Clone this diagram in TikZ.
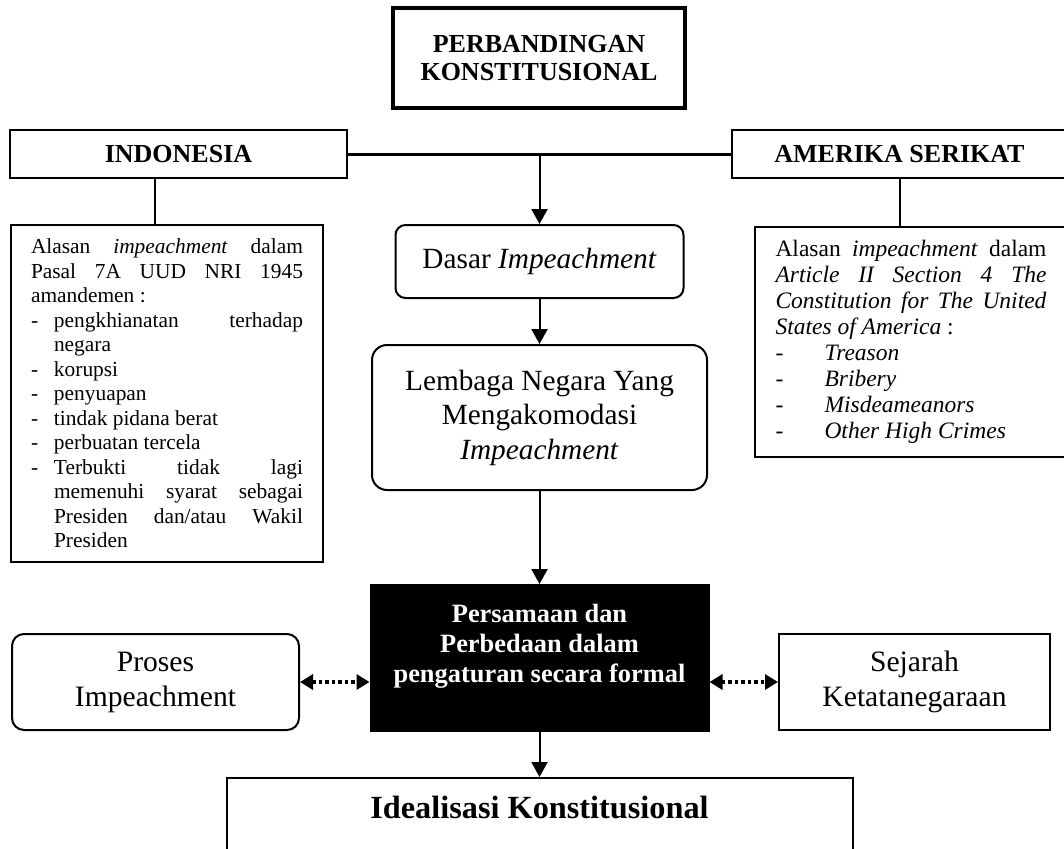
\documentclass[tikz,border=0pt]{standalone}
\usepackage{fontspec}
\setmainfont{Liberation Serif}
\usetikzlibrary{arrows.meta}
\begin{document}
\begin{tikzpicture}[x=1pt,y=-1pt,
  box/.style={draw, line width=2pt, inner sep=0pt},
  rbox/.style={box, rounded corners=12pt},
  arr/.style={line width=2pt, -{Triangle[width=16pt,length=15pt]}},
  darr/.style={line width=4pt, dash pattern=on 3.5pt off 3pt,
    {Triangle[width=15pt,length=13pt]}-{Triangle[width=15pt,length=13pt]}},
  conn/.style={line width=2pt},
  hdr/.style={font=\fontsize{26}{28}\selectfont\bfseries, align=center},
  big/.style={font=\fontsize{29.3}{34.5}\selectfont, align=center},
]
\useasboundingbox (0,0) rectangle (1064,848);

% title
\node[box, line width=4.5pt, minimum width=292, minimum height=100, hdr] (title) at (539,58) {PERBANDINGAN\\KONSTITUSIONAL};

% country headers
\node[box, minimum width=337, minimum height=48, hdr] (indo) at (178.5,154) {INDONESIA};
\node[box, minimum width=335, minimum height=48, hdr] (amer) at (899.5,154) {AMERIKA SERIKAT};
\draw[line width=3pt] (indo.east) -- (amer.west);
\coordinate (hub) at (539.5,154);
\coordinate (lx) at (155,0);
\coordinate (rx) at (900,0);

% left reasons box
\node[box, minimum width=312, minimum height=337, text width=272, align=justify,
      font=\fontsize{21.4}{24.5}\selectfont] (alasanid) at (167,393.5) {\parindent=0pt
Alasan \textit{impeachment} dalam\linebreak Pasal 7A UUD NRI 1945\linebreak amandemen :\par
\hangindent=23pt\hangafter=1\makebox[23pt][l]{-}pengkhianatan terhadap\linebreak negara\par
\hangindent=23pt\hangafter=1\makebox[23pt][l]{-}korupsi\par
\hangindent=23pt\hangafter=1\makebox[23pt][l]{-}penyuapan\par
\hangindent=23pt\hangafter=1\makebox[23pt][l]{-}tindak pidana berat\par
\hangindent=23pt\hangafter=1\makebox[23pt][l]{-}perbuatan tercela\par
\hangindent=23pt\hangafter=1\makebox[23pt][l]{-}Terbukti tidak lagi\linebreak memenuhi syarat sebagai\linebreak Presiden dan/atau Wakil\linebreak Presiden\par};

% right reasons box
\node[box, minimum width=312, minimum height=230, text width=271, align=justify,
      font=\fontsize{23.5}{26}\selectfont] (alasanus) at (911,342) {\parindent=0pt
Alasan \textit{impeachment} dalam\linebreak \textit{Article II Section 4 The}\linebreak \textit{Constitution for The United}\linebreak \textit{States of America} :\par
\makebox[49pt][l]{-}\textit{Treason}\par
\makebox[49pt][l]{-}\textit{Bribery}\par
\makebox[49pt][l]{-}\textit{Misdeameanors}\par
\makebox[49pt][l]{-}\textit{Other High Crimes}\par};

\draw[conn] (indo.south -| lx) -- (alasanid.north -| lx);
\draw[conn] (amer.south -| rx) -- (alasanus.north -| rx);

% centre column
\node[rbox, rounded corners=10pt, minimum width=288, minimum height=73, big] (dasar) at (539.5,261.5) {Dasar \textit{Impeachment}};
\node[rbox, rounded corners=15pt, minimum width=335, minimum height=145, big] (lembaga) at (539.5,417.5) {Lembaga Negara Yang\\Mengakomodasi\\\textit{Impeachment}};
\node[box, fill=black, minimum width=338, minimum height=146] (pers) at (539.5,658) {};
\node[text=white, font=\fontsize{26.4}{30}\selectfont\bfseries, align=center, inner sep=0pt] (perstext) at (539.5,646) {Persamaan dan\\Perbedaan dalam\\pengaturan secara formal};

\draw[arr] (hub) -- (dasar.north);
\draw[arr] (dasar.south) -- (lembaga.north);
\draw[arr] (lembaga.south) -- (pers.north);

% side boxes
\node[rbox, minimum width=287, minimum height=96, font=\fontsize{29.6}{35}\selectfont, align=center] (proses) at (155.5,682) {Proses\\Impeachment};
\node[box, minimum width=271, minimum height=96, font=\fontsize{29.6}{35}\selectfont, align=center] (sejarah) at (914.5,682) {Sejarah\\Ketatanegaraan};
\draw[darr] (proses.east) -- (proses.east -| pers.west);
\draw[darr] (sejarah.west -| pers.east) -- (sejarah.west);

% bottom
\node[box, minimum width=626, minimum height=102] (ideal) at (539.5,829) {};
\node[font=\fontsize{32.3}{36}\selectfont\bfseries, anchor=base, inner sep=0pt] (idealtext) at (539.5,818) {Idealisasi Konstitusional};
\draw[arr] (pers.south) -- (ideal.north);
\end{tikzpicture}
\end{document}
